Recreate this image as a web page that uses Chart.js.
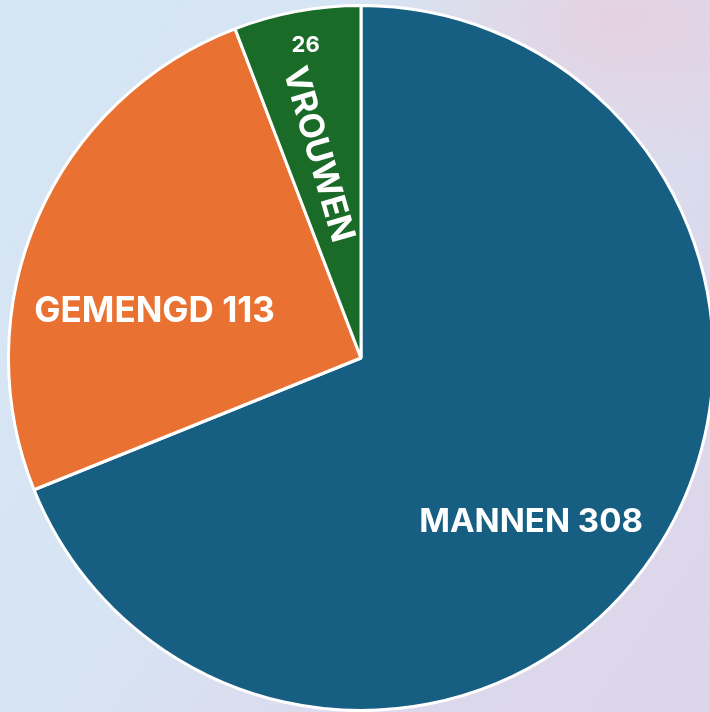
<!DOCTYPE html>
<html>
<head>
<meta charset="utf-8">
<script src="https://cdn.jsdelivr.net/npm/chart.js@4"></script>
<style>
  html, body { margin: 0; padding: 0; width: 710px; height: 712px; overflow: hidden; }
  body {
    background:
      radial-gradient(ellipse 260px 160px at 620px 20px, rgba(232, 205, 220, 0.8), rgba(232, 205, 220, 0) 100%),
      linear-gradient(125deg, #d6e6f4 0%, #d7e4f3 45%, #dcd8ec 75%, #ddd6eb 100%);
  }
  #wrap { position: absolute; left: 7px; top: 4px; width: 708px; height: 708px; }
</style>
</head>
<body>
<div id="wrap"><canvas id="pie"></canvas></div>
<script>
const categories = ['MANNEN', 'GEMENGD', 'VROUWEN'];
const values = [308, 113, 26];
const colors = ['#175f82', '#e97232', '#1b6b28'];

// label placement: fraction along the slice, fraction of radius, font size
const labelSpots = [
  { along: 0.54, radial: 0.67, size: 33 },
  { along: 0.38, radial: 0.60, size: 35 },
  { along: 0.43, radial: 0.59, size: 34 }
];

const sliceLabels = {
  id: 'sliceLabels',
  afterDatasetsDraw(chart) {
    const ctx = chart.ctx;
    const arcs = chart.getDatasetMeta(0).data;
    ctx.save();
    ctx.fillStyle = '#ffffff';
    ctx.textAlign = 'center';
    ctx.textBaseline = 'middle';
    arcs.forEach((arc, i) => {
      const p = arc.getProps(['x', 'y', 'startAngle', 'endAngle', 'outerRadius'], true);
      const spot = labelSpots[i];
      const a = p.startAngle + (p.endAngle - p.startAngle) * spot.along;
      const r = p.outerRadius * spot.radial;
      const x = p.x + Math.cos(a) * r;
      const y = p.y + Math.sin(a) * r;
      ctx.font = 'bold ' + spot.size + 'px Inter, sans-serif';
      if (i === 2) {
        // small slice: value on top, name rotated along the slice
        ctx.save();
        ctx.translate(x, y);
        ctx.rotate(74 * Math.PI / 180);
        ctx.fillText(categories[i], 0, 0);
        ctx.restore();
        const a2 = p.startAngle + (p.endAngle - p.startAngle) * 0.52;
        const r2 = p.outerRadius * 0.90;
        ctx.font = 'bold 22px Inter, sans-serif';
        ctx.fillText(String(values[i]), p.x + Math.cos(a2) * r2, p.y + Math.sin(a2) * r2);
      } else {
        ctx.fillText(categories[i] + ' ' + values[i], x, y);
      }
    });
    ctx.restore();
  }
};

new Chart(document.getElementById('pie'), {
  type: 'pie',
  data: {
    labels: categories,
    datasets: [{
      data: values,
      backgroundColor: colors,
      borderColor: '#ffffff',
      borderWidth: 3
    }]
  },
  options: {
    responsive: true,
    maintainAspectRatio: false,
    animation: false,
    layout: { padding: 0 },
    plugins: {
      legend: { display: false },
      tooltip: { enabled: false }
    }
  },
  plugins: [sliceLabels]
});
</script>
</body>
</html>
